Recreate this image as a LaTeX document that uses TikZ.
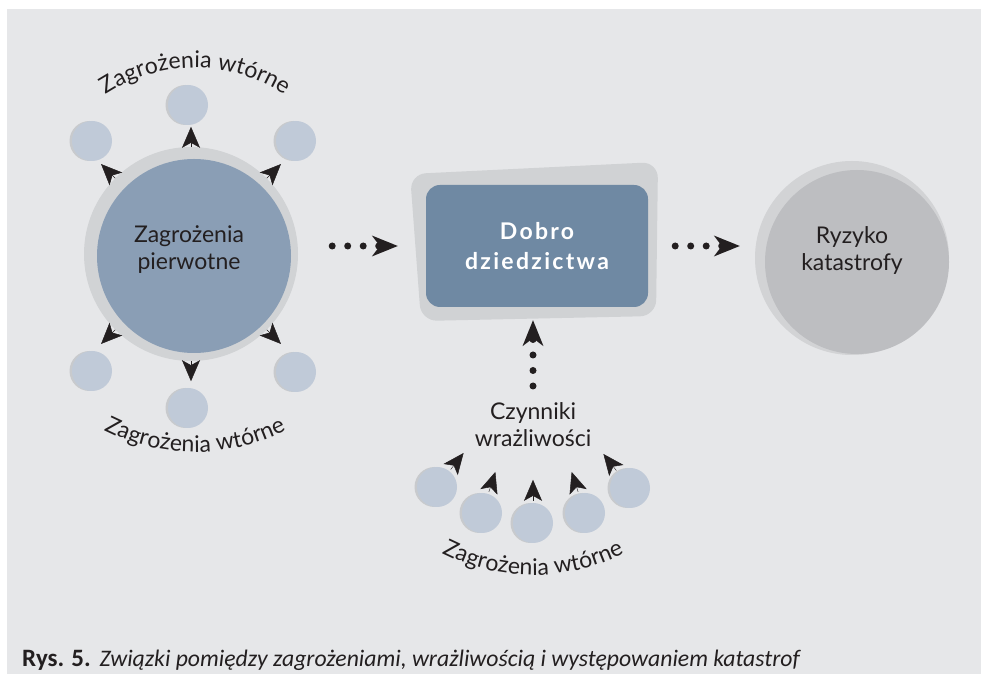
\documentclass[tikz,border=0pt]{standalone}
\usepackage{fontspec}
\setmainfont{Lato}
\newfontfamily\capfont{Carlito}
\newfontfamily\heritfont[LetterSpace=10]{Lato}
\usetikzlibrary{arrows.meta, positioning, calc, decorations.text}

\definecolor{panelgray}{HTML}{E6E7E9}
\definecolor{ringgray}{HTML}{D1D3D5}
\definecolor{primblue}{HTML}{8A9EB5}
\definecolor{secblue}{HTML}{C0CAD8}
\definecolor{secshade}{HTML}{C8CACD}
\definecolor{heritblue}{HTML}{6F89A3}
\definecolor{heritgray}{HTML}{D0D2D4}
\definecolor{riskgray}{HTML}{BDBEC1}
\definecolor{riskouter}{HTML}{D2D3D5}
\definecolor{inkblack}{HTML}{231F20}

\newcommand{\arcfont}{\fontsize{23}{27}\selectfont}

\tikzset{
  disc/.style={circle, inner sep=0pt, minimum size=#1},
  sec/.style={circle, inner sep=0pt, minimum size=40pt, fill=secblue,
    preaction={fill=secshade, transform canvas={xshift=-2.5pt}}},
  lbl/.style={align=center, text=inkblack, inner sep=0pt,
    font=\fontsize{23}{27}\selectfont},
  tipout/.style={draw=inkblack, line width=0.4pt,
    -{Stealth[length=21pt, width=18pt, inset=5pt, line width=0.5pt]}},
  dotflow/.style={draw=inkblack, line width=7pt, line cap=round,
    dash pattern=on 0pt off 15.5pt,
    -{Stealth[length=26pt, width=21pt, inset=8pt, line width=0pt]}},
  arctext/.style={decorate, decoration={text along path, text align=center,
    text={|\arcfont\color{inkblack}|Zagrożenia wtórne}}}
}

\begin{document}
\begin{tikzpicture}[x=1pt, y=1pt]
    \useasboundingbox (0,0) rectangle (981,674);
    \fill[white] (0,0) rectangle (981,674);
    \fill[panelgray] (7,0) rectangle (981,665);

    % Primary hazards
    \node[disc=214pt, fill=ringgray] (primring) at (191,420) {};
    \node[disc=194pt, fill=primblue] (prim) at (194,418) {};
    \node[lbl] (primtext) at (189,424) {Zagrożenia\\pierwotne};

    % Secondary hazards round it
    \node[sec] (s1) at (92,533) {};
    \node[sec] (s2) at (188,569) {};
    \node[sec] (s3) at (296,533) {};
    \node[sec] (s4) at (92,303) {};
    \node[sec] (s5) at (188,266) {};
    \node[sec] (s6) at (296,302) {};
    \foreach \a in {45,90,135,225,270,315}
        \draw[tipout] (primring.\a) -- ++(\a:20);
    \path[arctext] ($(primring.center)+(4,23)+(126:163)$) arc[start angle=126, end angle=54, radius=163];
    \path[arctext] ($(primring.center)+(4,2)+(240:200)$) arc[start angle=240, end angle=300, radius=200];

    % Heritage
    \fill[heritgray, rounded corners=16pt] (410,500) -- (658,512) -- (656,358) -- (421,353) -- cycle;
    \node[fill=heritblue, rounded corners=14pt, minimum width=222pt, minimum height=122pt,
        align=center, text=white, font=\heritfont\bfseries\fontsize{23}{30}\selectfont] (herit) at (537,428)
        {Dobro\\dziedzictwa};

    % Disaster risk
    \node[disc=194pt, fill=riskouter] (riskring) at (852,416) {};
    \node[disc=184pt, fill=riskgray] (risk) at (857,412) {};
    \node[lbl] (risktext) at (852,423) {Ryzyko\\katastrofy};

    % Vulnerability
    \node[lbl, anchor=north] (czyn) at (533,272) {Czynniki\\wrażliwości};
    \node[sec] (v1) at (437,187) {};
    \node[sec] (v2) at (482,161) {};
    \node[sec] (v3) at (533,151) {};
    \node[sec] (v4) at (585,161) {};
    \node[sec] (v5) at (630,186) {};
    \foreach \v/\a in {v1/52, v2/72, v3/90, v4/108, v5/128}
        \draw[tipout] (\v.\a) ++(\a:2) -- ++(\a:21);
    \path[arctext] ($(v3.center)+(0,148)+(240:200)$) arc[start angle=240, end angle=300, radius=200];

    % Flows
    \draw[dotflow, shorten <=34pt, shorten >=28pt] (primring.east |- herit.west) -- (herit.west);
    \draw[dotflow, shorten <=27pt, shorten >=15pt] (herit.east) -- (herit.east -| riskring.west);
    \draw[dotflow, shorten <=16pt, shorten >=13pt] (czyn.north) -- (czyn.north |- herit.south);

    % Caption
    \node[anchor=base west, inner sep=0pt, text=inkblack, font=\capfont] (caption) at (22,8)
        {\fontsize{25}{30}\selectfont\textbf{Rys.\hspace{7pt}5.}\hspace{9pt}\fontsize{23.7}{30}\selectfont\textit{Związki pomiędzy zagrożeniami, wrażliwością i występowaniem katastrof}};
\end{tikzpicture}
\end{document}
